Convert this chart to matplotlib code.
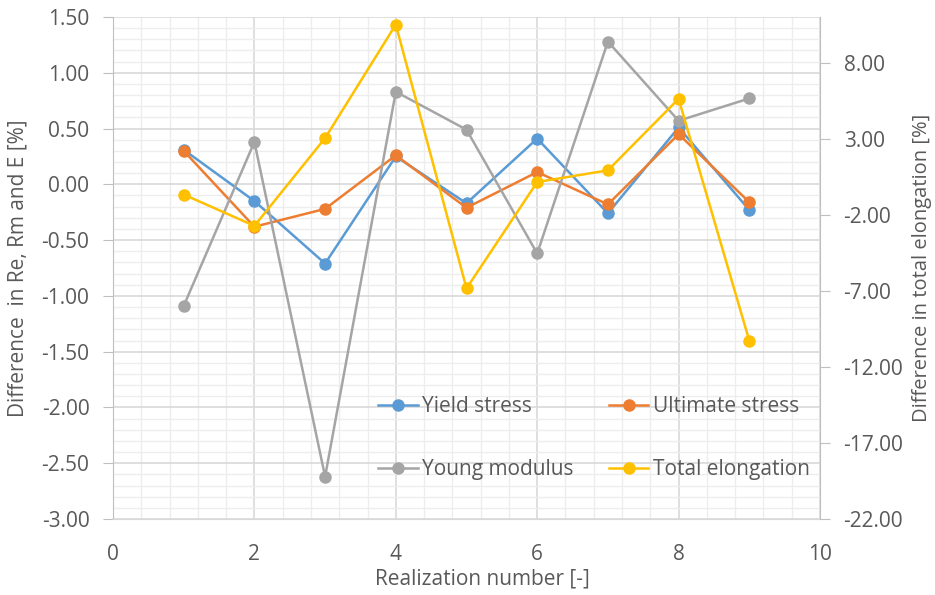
import numpy as np
import matplotlib.pyplot as plt
from matplotlib.ticker import MultipleLocator, FormatStrFormatter

plt.rcParams['font.family'] = ['Open Sans', 'DejaVu Sans']
plt.rcParams['axes.unicode_minus'] = False

# realization numbers and differences [%]
realization = [1, 2, 3, 4, 5, 6, 7, 8, 9]
yield_stress = [0.31, -0.15, -0.71, 0.25, -0.17, 0.41, -0.26, 0.51, -0.23]
ultimate_stress = [0.30, -0.38, -0.22, 0.26, -0.21, 0.11, -0.18, 0.45, -0.16]
young_modulus = [-1.09, 0.38, -2.62, 0.83, 0.49, -0.62, 1.28, 0.57, 0.77]
total_elongation = [-0.67, -2.73, 3.04, 10.5, -6.84, 0.15, 0.92, 5.62, -10.28]

c_blue = '#5B9BD5'
c_orange = '#ED7D31'
c_gray = '#A5A5A5'
c_gold = '#FFC000'
txt = '#595959'
axcol = '#BFBFBF'
fs = 15

fig = plt.figure(figsize=(9.35, 5.95), dpi=100)
ax = fig.add_axes([113/935, 1-519/595, 707/935, 502/595])
ax2 = ax.twinx()

lw = 1.8
ms = 8
l1, = ax.plot(realization, yield_stress, '-o', color=c_blue, lw=lw, ms=ms, label='Yield stress')
l2, = ax.plot(realization, ultimate_stress, '-o', color=c_orange, lw=lw, ms=ms, label='Ultimate stress')
l3, = ax.plot(realization, young_modulus, '-o', color=c_gray, lw=lw, ms=ms, label='Young modulus')
l4, = ax2.plot(realization, total_elongation, '-o', color=c_gold, lw=lw, ms=ms, label='Total elongation')

ax.set_xlim(0, 10)
ax.set_ylim(-3.0, 1.5)
ax2.set_ylim(-22, 11)

ax.xaxis.set_major_locator(MultipleLocator(2))
ax.xaxis.set_minor_locator(MultipleLocator(0.4))
ax.yaxis.set_major_locator(MultipleLocator(0.5))
ax.yaxis.set_minor_locator(MultipleLocator(0.1))
ax.yaxis.set_major_formatter(FormatStrFormatter('%.2f'))
ax2.set_yticks(np.arange(-22, 9, 5))
ax2.yaxis.set_major_formatter(FormatStrFormatter('%.2f'))

ax.grid(which='major', color='#D9D9D9', lw=1.2)
ax.grid(which='minor', color='#EDEDED', lw=1.0)
ax.set_axisbelow(True)

for a in (ax, ax2):
    for s in a.spines.values():
        s.set_visible(False)
ax.spines['left'].set_visible(True)
ax.spines['left'].set_color(axcol)
ax.spines['bottom'].set_visible(True)
ax.spines['bottom'].set_color('#D9D9D9')
ax2.spines['right'].set_visible(True)
ax2.spines['right'].set_color(axcol)

ax.tick_params(axis='y', which='major', length=7, color=axcol, labelsize=fs, labelcolor=txt, pad=10)
ax.tick_params(axis='y', which='minor', length=0)
ax.tick_params(axis='x', which='both', length=0, labelsize=fs, labelcolor=txt, pad=18)
ax2.tick_params(axis='y', length=7, color=axcol, labelsize=fs, labelcolor=txt, pad=10)

ax.set_xlabel('Realization number [-]', fontsize=fs, color=txt)
ax.xaxis.set_label_coords(0.523, -0.098)
ax.set_ylabel('Difference  in Re, Rm and E [%]', fontsize=fs, color=txt, labelpad=9)
ax2.set_ylabel('Difference in total elongation [%]', fontsize=14.5, color=txt, labelpad=6)

leg = ax.legend(handles=[l1, l3, l2, l4], ncol=2, frameon=False,
                loc='lower left', bbox_to_anchor=(0.375, 0.078),
                borderpad=0, borderaxespad=0,
                fontsize=fs, labelcolor=txt, handlelength=1.9,
                columnspacing=1.7, labelspacing=2.0, handletextpad=0.2)

fig.savefig('out.png', dpi=100)
